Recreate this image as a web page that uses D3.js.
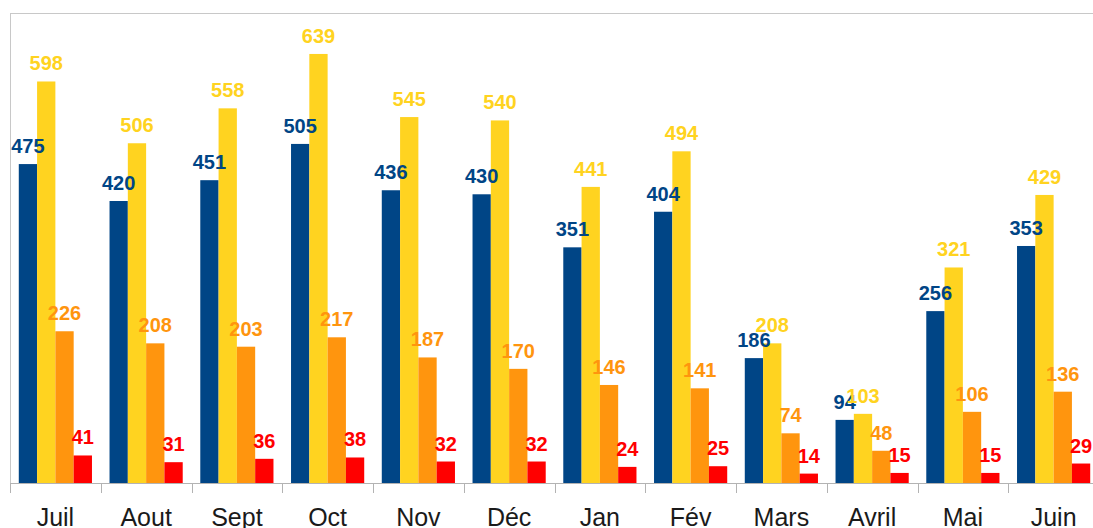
<!DOCTYPE html>
<html>
<head>
<meta charset="utf-8">
<script src="https://cdn.jsdelivr.net/npm/d3@7"></script>
<style>
  body { margin: 0; background: #fff; }
  svg { display: block; font-family: "Liberation Sans", Arial, sans-serif; }
</style>
</head>
<body>
<script>
// months and the four series
const months = ["Juil", "Aout", "Sept", "Oct", "Nov", "Déc", "Jan", "Fév", "Mars", "Avril", "Mai", "Juin"];
const seriesNames = ["s1", "s2", "s3", "s4"];
const s1 = [475, 420, 451, 505, 436, 430, 351, 404, 186, 94, 256, 353];
const s2 = [598, 506, 558, 639, 545, 540, 441, 494, 208, 103, 321, 429];
const s3 = [226, 208, 203, 217, 187, 170, 146, 141, 74, 48, 106, 136];
const s4 = [41, 31, 36, 38, 32, 32, 24, 25, 14, 15, 15, 29];
const colors = ["#004586", "#ffd320", "#ff950e", "#ff0000"];

const allSeries = [s1, s2, s3, s4];

let width = 1093;
let height = 528;
let svg = d3.select("body").append("svg")
  .attr("width", width)
  .attr("height", height);

let plotLeft = 10, plotTop = 13, plotBottom = 483;
let step = 90.75;
let plotRight = plotLeft + step * months.length;

let x0 = d3.scaleBand()
  .domain(months)
  .range([plotLeft, plotRight]);

let x1 = d3.scaleBand()
  .domain(seriesNames)
  .range([0, x0.bandwidth()])
  .paddingOuter(0.48);

let y = d3.scaleLinear()
  .domain([0, 700])
  .range([plotBottom, plotTop]);

// plot frame
svg.append("rect")
  .attr("x", plotLeft + 0.5)
  .attr("y", plotTop + 0.5)
  .attr("width", plotRight - plotLeft)
  .attr("height", plotBottom - plotTop)
  .attr("fill", "none")
  .attr("stroke", "#c8c8c8")
  .attr("stroke-width", 1);

// flatten into one record per bar
let rows = [];
months.forEach((m, i) => {
  seriesNames.forEach((s, j) => {
    rows.push({ month: m, series: s, value: allSeries[j][i], color: colors[j] });
  });
});

let g = svg.append("g");

g.selectAll("rect.bar")
  .data(rows)
  .enter()
  .append("rect")
  .attr("class", "bar")
  .attr("x", d => x0(d.month) + x1(d.series))
  .attr("y", d => y(d.value))
  .attr("width", x1.bandwidth())
  .attr("height", d => plotBottom - y(d.value))
  .attr("fill", d => d.color);

g.selectAll("text.val")
  .data(rows)
  .enter()
  .append("text")
  .attr("class", "val")
  .attr("x", d => x0(d.month) + x1(d.series) + x1.bandwidth() / 2)
  .attr("y", d => y(d.value) - 11)
  .attr("text-anchor", "middle")
  .attr("font-size", 20)
  .attr("font-weight", "bold")
  .attr("fill", d => d.color)
  .text(d => d.value);

// x axis
let axis = d3.axisBottom(x0).tickSize(0).tickPadding(0);
let ax = svg.append("g")
  .attr("transform", `translate(0,${plotBottom})`)
  .call(axis);
ax.select(".domain").attr("stroke", "#b3b3b3").attr("d", `M${plotLeft},0.5H${plotRight}`);
ax.selectAll("text")
  .attr("y", 43)
  .attr("dy", null)
  .attr("font-size", 25)
  .attr("font-family", "Liberation Sans, Arial, sans-serif")
  .attr("fill", "#1a1a1a");

// tick marks on category boundaries
let bounds = months.map(m => x0(m)).concat([plotRight]);
svg.append("g").selectAll("line")
  .data(bounds)
  .enter()
  .append("line")
  .attr("x1", d => Math.round(d) + 0.5)
  .attr("x2", d => Math.round(d) + 0.5)
  .attr("y1", plotBottom)
  .attr("y2", plotBottom + 10)
  .attr("stroke", "#b3b3b3")
  .attr("stroke-width", 1);
</script>
</body>
</html>
